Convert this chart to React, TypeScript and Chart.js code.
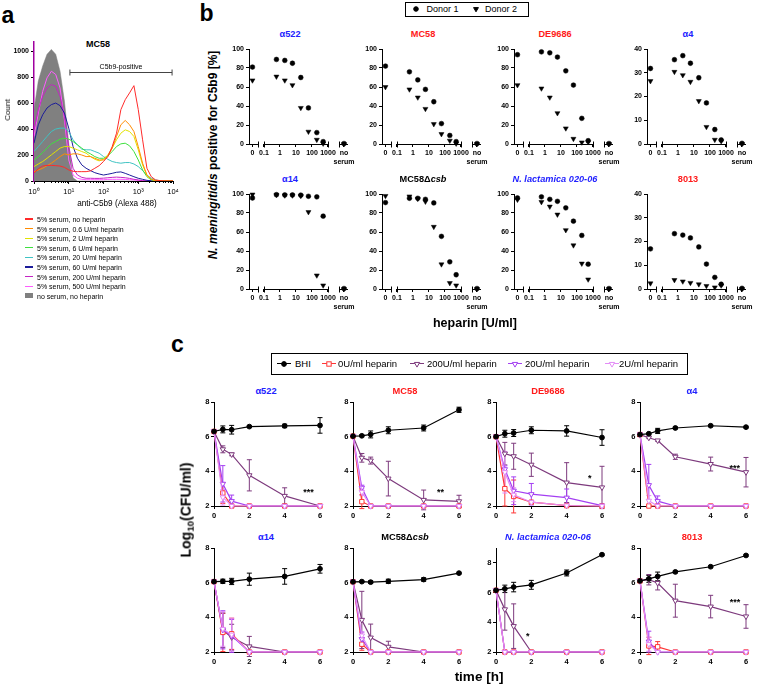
import React, { useEffect, useRef } from 'react';
import { Chart, registerables } from 'chart.js';

Chart.register(...registerables);

const FONT = "'Liberation Sans', Arial, Helvetica, sans-serif";
const PAD = 8;

// ================= Panel a : flow cytometry histogram (MC58) =================
const HIST_X = [1, 1.33, 1.78, 2.37, 3.16, 4.22, 5.62, 7.5, 10, 13.3, 17.8, 23.7, 31.6, 42.2, 56.2, 75, 100, 133, 178, 237, 316, 422, 562, 750, 1000, 1334, 1778, 2371, 3162, 4217, 5623, 7499, 10000];
const HIST_NO_HEPARIN = [60, 95, 115, 120, 120, 118, 115, 105, 85, 75, 72, 72, 72, 78, 98, 118, 150, 188, 265, 368, 549, 626, 678, 734, 550, 317, 98, 33, 8, 3, 0, 0, 0];
const HIST_HEP_0_6 = [72, 85, 98, 118, 137, 162, 188, 209, 201, 209, 209, 200, 188, 188, 175, 162, 162, 188, 253, 343, 433, 466, 433, 381, 265, 137, 46, 13, 3, 0, 0, 0, 0];
const HIST_HEP_2 = [111, 131, 150, 175, 201, 227, 253, 265, 265, 253, 240, 227, 214, 188, 167, 155, 167, 201, 253, 317, 368, 394, 381, 343, 240, 124, 41, 13, 3, 0, 0, 0, 0];
const HIST_HEP_6 = [162, 188, 219, 253, 286, 304, 322, 330, 322, 304, 278, 253, 227, 209, 188, 175, 175, 193, 227, 265, 286, 291, 271, 227, 162, 85, 33, 8, 2, 0, 0, 0, 0];
const HIST_HEP_20 = [227, 265, 304, 343, 381, 400, 407, 407, 381, 317, 278, 245, 240, 240, 227, 214, 188, 167, 150, 142, 137, 142, 142, 131, 111, 80, 46, 21, 8, 2, 0, 0, 0];
const HIST_HEP_60 = [291, 433, 510, 562, 588, 600, 580, 523, 407, 265, 175, 124, 98, 80, 64, 54, 46, 52, 59, 67, 70, 59, 46, 33, 21, 13, 5, 2, 0, 0, 0, 0, 0];
const HIST_HEP_200 = [394, 549, 652, 716, 742, 729, 652, 497, 265, 98, 46, 28, 21, 21, 20, 20, 22, 25, 28, 30, 28, 25, 20, 13, 8, 3, 0, 0, 0, 0, 0, 0, 0];
const HIST_HEP_500 = [343, 523, 690, 794, 845, 820, 716, 472, 162, 46, 21, 13, 10, 10, 10, 10, 10, 12, 13, 13, 13, 12, 10, 8, 5, 2, 0, 0, 0, 0, 0, 0, 0];
const HIST_NO_SERUM = [550, 770, 885, 975, 1013, 975, 845, 615, 290, 25, 0, 0, 0, 0, 0, 0, 0, 0, 0, 0, 0, 0, 0, 0, 0, 0, 0, 0, 0, 0, 0, 0, 0];
const HIST_LABELS = [
  '5% serum, no heparin',
  '5% serum, 0.6 U/ml heparin',
  '5% serum, 2 U/ml heparin',
  '5% serum, 6 U/ml heparin',
  '5% serum, 20 U/ml heparin',
  '5% serum, 60 U/ml heparin',
  '5% serum, 200 U/ml heparin',
  '5% serum, 500 U/ml heparin',
  'no serum, no heparin',
];
const HIST_COLORS = ['#ff2a2a', '#ff8c00', '#e2e200', '#3ee03e', '#3fc3c3', '#1c1c9a', '#c424c4', '#ff5cff', '#808080'];
const HIST_X_MAJOR = [1, 10, 100, 1000, 10000];
const HIST_Y_TICKS = [0, 200, 400, 600, 800, 1000];
const SUP = ['\u2070', '\u00b9', '\u00b2', '\u00b3', '\u2074'];

// ================= Panel b : % C5b9 positive =================
const HEPARIN_CONC: any[] = [0, 0.6, 2, 6, 20, 60, 200, 500, 'no serum'];
const B_A522_D1 = [81, 89, 88, 85, 70, 38, 12, 2.5, 0.5];
const B_A522_D2 = [67, 71, 67, 62, 38, 13, 4.5, 0.5, 0];
const B_MC58_D1 = [82, 76, 67.5, 57.5, 44.5, 21.5, 9, 2.5, 0.5];
const B_MC58_D2 = [60, 57.5, 49, 37, 21, 10.5, 3.5, 0.5, 0];
const B_DE9686_D1 = [94, 97, 96, 91.5, 77, 62, 27, 3.5, 0.5];
const B_DE9686_D2 = [62, 58.5, 49, 32.5, 16.5, 5.5, 1.7, 2, 0];
const B_A4_D1 = [31.8, 35.5, 37.2, 34, 27.9, 17.3, 6.1, 1.7, 0.3];
const B_A4_D2 = [26.5, 30.4, 29, 26.2, 18.1, 7.2, 1.8, 1.2, 0];
const B_A14_D1 = [95.8, 99.3, 99, 99, 98.8, 97.6, 97, 76.7, 0.5];
const B_A14_D2 = [99.5, 99, 98.5, 98.5, 98, 81, 14.3, 3.8, 0];
const B_CSB_D1 = [91, 95.5, 95.5, 94.4, 90.6, 55.4, 28.6, 15, 0.5];
const B_CSB_D2 = [98, 97.5, 95, 92, 65.5, 26, 6.3, 3.8, 0];
const B_NLAC_D1 = [95.8, 97, 94.4, 92.3, 85.4, 71.4, 56.4, 26.1, 0.5];
const B_NLAC_D2 = [94, 91.6, 86.8, 78.4, 62, 46, 26.8, 10.1, 0];
const B_8013_D1 = [16.9, 23.3, 22.7, 21.5, 17.7, 10.5, 4.9, 2, 0.3];
const B_8013_D2 = [2.4, 3.8, 3.2, 2.6, 2, 1.3, 0.7, 1.5, 0];

// broken axis placement on a log scale (axis geometry, not data)
const B_X_MIN = 0.0116;
const B_X_MAX = 17800;
const B_ZERO_POS = 0.0191;
const B_NOSERUM_POS = 10000;
const B_X_TICKS = [B_ZERO_POS, 0.1, 1, 10, 100, 1000, B_NOSERUM_POS];
const posB = (c: any) => (c === 0 ? B_ZERO_POS : c === 'no serum' ? B_NOSERUM_POS : c);

// ================= Panel c : killing kinetics =================
const TIME_H = [0, 0.5, 1, 2, 4, 6];
const C_X_TICKS = [0, 2, 4, 6];
const C_Y_TICKS = [2, 4, 6, 8];

const C_A522_MEAN = { bhi: [6.3, 6.42, 6.4, 6.58, 6.62, 6.65], u0: [6.3, 2.75, 2, 2, 2, 2], u200: [6.3, 5.27, 4.98, 3.77, 2.58, 2], u20: [6.3, 3.28, 2.28, 2, 2, 2], u2: [6.3, 2.5, 2, 2, 2, 2] };
const C_A522_ERR = { bhi: [0, 0.2, 0.25, 0.05, 0.1, 0.45], u0: [0, 0.6, 0, 0, 0, 0], u200: [0, 0.2, 0.08, 0.9, 0.47, 0], u20: [0, 1.05, 0.35, 0, 0, 0], u2: [0, 0.45, 0, 0, 0, 0] };
const C_MC58_MEAN = { bhi: [6.03, 6.05, 6.13, 6.37, 6.5, 7.55], u0: [6.03, 2.25, 2, 2, 2, 2], u200: [6.03, 4.78, 4.62, 3.58, 2.35, 2.27], u20: [6.03, 3.05, 2, 2, 2, 2], u2: [6.03, 2.8, 2, 2, 2, 2] };
const C_MC58_ERR = { bhi: [0, 0.05, 0.2, 0.2, 0.17, 0.15], u0: [0, 0.4, 0, 0, 0, 0], u200: [0, 0.25, 0.2, 1.0, 0.57, 0.35], u20: [0, 0.15, 0, 0, 0, 0], u2: [0, 0.2, 0, 0, 0, 0] };
const C_DE9686_MEAN = { bhi: [6.0, 6.17, 6.21, 6.37, 6.33, 5.95], u0: [6.0, 3.0, 2.55, 2.22, 2.02, 2], u200: [6.0, 5.02, 4.87, 4.38, 3.35, 3.07], u20: [6.0, 4.12, 2.88, 2.68, 2.48, 2.02], u2: [6.0, 3.95, 2.65, 2.22, 2.03, 2] };
const C_DE9686_ERR = { bhi: [0, 0.2, 0.2, 0.2, 0.3, 0.45], u0: [0, 1.0, 0.95, 0, 0, 0], u200: [0, 0.65, 0.75, 0.67, 1.15, 1.22], u20: [0, 0.2, 0.8, 0.62, 0.5, 0], u2: [0, 1.2, 0.4, 0, 0, 0] };
const C_A4_MEAN = { bhi: [6.12, 6.17, 6.33, 6.5, 6.63, 6.55], u0: [6.12, 2, 2, 2, 2, 2], u200: [6.12, 5.94, 5.78, 4.84, 4.42, 3.95], u20: [6.12, 3.2, 2.28, 2, 2, 2], u2: [6.12, 2.3, 2, 2, 2, 2] };
const C_A4_ERR = { bhi: [0, 0.05, 0.15, 0.05, 0.05, 0.05], u0: [0, 0, 0, 0, 0, 0], u200: [0, 0.05, 0.05, 0.15, 0.4, 0.85], u20: [0, 1.2, 0.3, 0, 0, 0], u2: [0, 0.3, 0, 0, 0, 0] };
const C_A14_MEAN = { bhi: [6.06, 6.08, 6.07, 6.2, 6.36, 6.8], u0: [6.06, 3.13, 3.05, 2, 2, 2], u200: [6.06, 3.25, 2.85, 2.32, 2, 2], u20: [6.06, 3.28, 2.93, 2, 2, 2], u2: [6.06, 3.33, 3.0, 2, 2, 2] };
const C_A14_ERR = { bhi: [0, 0.12, 0.18, 0.35, 0.45, 0.25], u0: [0, 1.1, 0.9, 0, 0, 0], u200: [0, 1.0, 0.75, 0.58, 0, 0], u20: [0, 1.1, 0.95, 0, 0, 0], u2: [0, 1.0, 0.95, 0, 0, 0] };
const C_CSB_MEAN = { bhi: [6.05, 6.06, 6.03, 6.08, 6.18, 6.55], u0: [6.05, 2.45, 2, 2, 2, 2], u200: [6.05, 3.85, 2.83, 2.3, 2, 2], u20: [6.05, 2.75, 2, 2, 2, 2], u2: [6.05, 2.95, 2, 2, 2, 2] };
const C_CSB_ERR = { bhi: [0, 0.05, 0.08, 0.12, 0.1, 0.05], u0: [0, 0.35, 0, 0, 0, 0], u200: [0, 1.65, 0.78, 0.32, 0, 0], u20: [0, 0.4, 0, 0, 0, 0], u2: [0, 0.2, 0, 0, 0, 0] };
const C_NLAC_MEAN = { bhi: [6.15, 6.25, 6.37, 6.52, 7.32, 8.55], u0: [6.15, 2, 2, 2, 2, 2], u200: [6.15, 4.87, 3.74, 2, 2, 2], u20: [6.15, 2, 2, 2, 2, 2], u2: [6.15, 2, 2, 2, 2, 2] };
const C_NLAC_ERR = { bhi: [0, 0.25, 0.32, 0.3, 0.2, 0.05], u0: [0, 0, 0, 0, 0, 0], u200: [0, 1.4, 1.5, 0, 0, 0], u20: [0, 0, 0, 0, 0, 0], u2: [0, 0, 0, 0, 0, 0] };
const C_8013_MEAN = { bhi: [6.1, 6.22, 6.36, 6.62, 6.92, 7.57], u0: [6.1, 2.35, 2.3, 2, 2, 2], u200: [6.1, 6.17, 5.98, 4.96, 4.62, 4.05], u20: [6.1, 2.6, 2, 2, 2, 2], u2: [6.1, 2.45, 2, 2, 2, 2] };
const C_8013_ERR = { bhi: [0, 0.2, 0.25, 0.05, 0.05, 0.05], u0: [0, 0.5, 0.3, 0, 0, 0], u200: [0, 0.3, 0.4, 0.95, 0.65, 0.68], u20: [0, 0.6, 0, 0, 0, 0], u2: [0, 0.4, 0, 0, 0, 0] };

const C_SERIES = [
  { key: 'bhi', label: 'BHI', color: '#000000', style: 'circle', fill: '#000000', radius: 2.4, order: 0 },
  { key: 'u0', label: '0U/ml heparin', color: '#ff3636', style: 'rect', fill: '#ffffff', radius: 3.1, order: 3 },
  { key: 'u200', label: '200U/ml heparin', color: '#7d3a7d', style: 'triangle', fill: '#ffffff', radius: 3.1, order: 4 },
  { key: 'u20', label: '20U/ml heparin', color: '#a43ff2', style: 'triangle', fill: '#ffffff', radius: 3.1, order: 2 },
  { key: 'u2', label: '2U/ml heparin', color: '#e38cf6', style: 'triangle', fill: '#ffffff', radius: 3.1, order: 1 },
];

// ================= plugins =================
const bracketPlugin = {
  id: 'bracket',
  afterDatasetsDraw(chart: any, _a: any, opts: any) {
    if (!opts || !opts.text) return;
    const { ctx } = chart;
    const xs = chart.scales.x;
    const ys = chart.scales.y;
    const x1 = xs.getPixelForValue(opts.from);
    const x2 = xs.getPixelForValue(opts.to);
    const py = Math.round(ys.getPixelForValue(opts.y)) + 0.5;
    ctx.save();
    ctx.strokeStyle = '#444';
    ctx.lineWidth = 1;
    ctx.beginPath();
    ctx.moveTo(x1, py); ctx.lineTo(x2, py);
    ctx.moveTo(x1, py - 3); ctx.lineTo(x1, py + 3);
    ctx.moveTo(x2, py - 3); ctx.lineTo(x2, py + 3);
    ctx.stroke();
    ctx.fillStyle = '#000';
    ctx.font = `7px ${FONT}`;
    ctx.textAlign = 'center';
    ctx.textBaseline = 'bottom';
    ctx.fillText(opts.text, (x1 + x2) / 2, py - 2);
    ctx.restore();
  },
};

// short minor tick marks between the decades of a log axis
const minorTickPlugin = {
  id: 'minorTicks',
  afterDraw(chart: any, _a: any, opts: any) {
    if (!opts || !opts.decades) return;
    const { ctx, chartArea } = chart;
    const xs = chart.scales.x;
    const y = Math.round(chartArea.bottom);
    ctx.save();
    ctx.strokeStyle = '#000';
    ctx.lineWidth = 1;
    ctx.beginPath();
    for (let d = 0; d < opts.decades; d++) {
      for (let m = 2; m < 10; m++) {
        const px = Math.round(xs.getPixelForValue(m * Math.pow(10, d))) + 0.5;
        ctx.moveTo(px, y); ctx.lineTo(px, y + 2);
      }
    }
    ctx.stroke();
    ctx.restore();
  },
};

const brokenAxisPlugin = {
  id: 'brokenAxis',
  afterDraw(chart: any) {
    const { ctx, chartArea } = chart;
    const xs = chart.scales.x;
    const y = Math.round(chartArea.bottom) + 0.5;
    const segs = [
      { a: chartArea.left, b: xs.getPixelForValue(0.0422), capA: false, capB: true },
      { a: xs.getPixelForValue(0.1), b: xs.getPixelForValue(1000), capA: true, capB: true },
      { a: xs.getPixelForValue(5000), b: chartArea.right, capA: true, capB: false },
    ];
    ctx.save();
    ctx.strokeStyle = '#000';
    ctx.lineWidth = 1;
    ctx.beginPath();
    segs.forEach((s) => {
      ctx.moveTo(s.a, y); ctx.lineTo(s.b, y);
      if (s.capA) { ctx.moveTo(Math.round(s.a) + 0.5, y - 3); ctx.lineTo(Math.round(s.a) + 0.5, y + 3); }
      if (s.capB) { ctx.moveTo(Math.round(s.b) + 0.5, y - 3); ctx.lineTo(Math.round(s.b) + 0.5, y + 3); }
    });
    ctx.stroke();
    ctx.restore();
  },
};

const errorBarPlugin = {
  id: 'errorBars',
  beforeDatasetsDraw(chart: any) {
    const { ctx } = chart;
    const ys = chart.scales.y;
    chart.data.datasets.forEach((ds: any, di: number) => {
      if (!ds.errors) return;
      const meta = chart.getDatasetMeta(di);
      ctx.save();
      ctx.strokeStyle = ds.borderColor;
      ctx.lineWidth = 1;
      ctx.beginPath();
      meta.data.forEach((pt: any, i: number) => {
        const e = ds.errors[i];
        if (!e) return;
        const v = ds.data[i].y;
        const yt = ys.getPixelForValue(v + e);
        const yb = ys.getPixelForValue(v - e);
        ctx.moveTo(pt.x, yt); ctx.lineTo(pt.x, yb);
        ctx.moveTo(pt.x - 2.5, yt); ctx.lineTo(pt.x + 2.5, yt);
        ctx.moveTo(pt.x - 2.5, yb); ctx.lineTo(pt.x + 2.5, yb);
      });
      ctx.stroke();
      ctx.restore();
    });
  },
};

const starPlugin = {
  id: 'stars',
  afterDatasetsDraw(chart: any, _a: any, opts: any) {
    if (!opts || !opts.text) return;
    const { ctx } = chart;
    ctx.save();
    ctx.fillStyle = '#000';
    ctx.font = `bold 9px ${FONT}`;
    ctx.textAlign = 'center';
    ctx.textBaseline = 'middle';
    ctx.fillText(opts.text, chart.scales.x.getPixelForValue(opts.x), chart.scales.y.getPixelForValue(opts.y));
    ctx.restore();
  },
};

// ================= chart canvas with fixed plot rectangle =================
function PlotCanvas({ left, top, width, height, yW, xH, make }: any) {
  const ref = useRef<HTMLCanvasElement | null>(null);
  const cw = PAD + yW + width + PAD;
  const ch = PAD + height + xH + PAD;
  useEffect(() => {
    if (!ref.current) return;
    const cfg = make();
    const o = cfg.options;
    o.responsive = false;
    o.maintainAspectRatio = false;
    o.animation = false;
    o.devicePixelRatio = 1;
    o.events = [];
    o.layout = { padding: PAD };
    o.scales.x.afterFit = (s: any) => { s.height = xH; s.paddingLeft = 0; s.paddingRight = 0; };
    o.scales.y.afterFit = (s: any) => { s.width = yW; s.paddingTop = 0; s.paddingBottom = 0; };
    o.plugins = { ...(o.plugins || {}), legend: { display: false }, title: { display: false }, tooltip: { enabled: false } };
    const chart = new Chart(ref.current, cfg);
    return () => chart.destroy();
  }, []);
  return (
    <canvas
      ref={ref}
      width={cw}
      height={ch}
      style={{ position: 'absolute', left: left - yW - PAD, top: top - PAD, width: cw, height: ch }}
    />
  );
}

const tickFont = (size: number, bold = true) => ({ family: FONT, size, weight: (bold ? 'bold' : 'normal') as any });
const axisGrid = { display: true, drawOnChartArea: false, drawTicks: true, tickLength: 3, color: '#000', lineWidth: 1 };

function histConfig() {
  const series = [HIST_NO_HEPARIN, HIST_HEP_0_6, HIST_HEP_2, HIST_HEP_6, HIST_HEP_20, HIST_HEP_60, HIST_HEP_200, HIST_HEP_500, HIST_NO_SERUM];
  return {
    type: 'line',
    data: {
      datasets: series.map((arr, k) => ({
        label: HIST_LABELS[k],
        data: HIST_X.map((x, i) => ({ x, y: arr[i] })),
        borderColor: HIST_COLORS[k],
        backgroundColor: k === 8 ? HIST_COLORS[k] : 'transparent',
        fill: k === 8 ? 'origin' : false,
        borderWidth: k === 8 ? 0.5 : 1,
        pointRadius: 0,
        tension: 0,
        order: k === 8 ? 20 : k,
      })),
    },
    options: {
      scales: {
        x: {
          type: 'logarithmic', min: 1, max: 10000,
          afterBuildTicks: (s: any) => { s.ticks = HIST_X_MAJOR.map((v) => ({ value: v })); },
          ticks: {
            autoSkip: false, maxRotation: 0, minRotation: 0, padding: 3, color: '#000', font: tickFont(7.5, false),
            callback: (v: any) => { const i = HIST_X_MAJOR.indexOf(v); return i >= 0 ? '10' + SUP[i] : ''; },
          },
          grid: axisGrid,
          border: { display: true, color: '#000', width: 1 },
        },
        y: {
          type: 'linear', min: 0, max: 1070,
          afterBuildTicks: (s: any) => { s.ticks = HIST_Y_TICKS.map((v) => ({ value: v })); },
          ticks: { autoSkip: false, padding: 2, color: '#000', font: tickFont(7), callback: (v: any) => String(v) },
          grid: axisGrid,
          border: { display: true, color: '#a000a0', width: 1.5 },
        },
      },
      plugins: {
        bracket: { text: 'C5b9-positive', from: 10.8, to: 9400, y: 840 },
        minorTicks: { decades: 4 },
      },
    },
    plugins: [bracketPlugin, minorTickPlugin],
  };
}

function makeB(spec: any) {
  return () => ({
    type: 'scatter',
    data: {
      datasets: [
        { label: 'Donor 1', data: HEPARIN_CONC.map((c, i) => ({ x: posB(c), y: spec.d1[i] })), pointStyle: 'circle', pointRadius: 2.4, pointBackgroundColor: '#000', pointBorderColor: '#000', pointBorderWidth: 0.5, clip: false, order: 0 },
        { label: 'Donor 2', data: HEPARIN_CONC.map((c, i) => ({ x: posB(c), y: spec.d2[i] })), pointStyle: 'triangle', pointRotation: 180, pointRadius: 2.9, pointBackgroundColor: '#000', pointBorderColor: '#000', pointBorderWidth: 0.5, clip: false, order: 1 },
      ],
    },
    options: {
      scales: {
        x: {
          type: 'logarithmic', min: B_X_MIN, max: B_X_MAX,
          afterBuildTicks: (s: any) => { s.ticks = B_X_TICKS.map((v) => ({ value: v })); },
          ticks: {
            autoSkip: false, maxRotation: 0, minRotation: 0, padding: 2, color: '#000', font: tickFont(7),
            callback: (v: any) => (v === B_ZERO_POS ? '0' : v === B_NOSERUM_POS ? ['no', 'serum'] : String(v)),
          },
          grid: axisGrid,
          border: { display: false },
        },
        y: {
          type: 'linear', min: 0, max: spec.ymax,
          afterBuildTicks: (s: any) => { s.ticks = spec.yticks.map((v: number) => ({ value: v })); },
          ticks: { autoSkip: false, padding: 2, color: '#000', font: tickFont(7), callback: (v: any) => String(v) },
          grid: axisGrid,
          border: { display: true, color: '#000', width: 1 },
        },
      },
    },
    plugins: [brokenAxisPlugin],
  });
}

function makeC(spec: any) {
  return () => ({
    type: 'line',
    data: {
      datasets: C_SERIES.map((s) => ({
        label: s.label,
        data: TIME_H.map((t, i) => ({ x: t, y: spec.mean[s.key][i] })),
        errors: spec.err[s.key],
        borderColor: s.color,
        backgroundColor: s.fill,
        pointBackgroundColor: s.fill,
        pointBorderColor: s.color,
        pointStyle: s.style,
        pointRotation: s.style === 'triangle' ? 180 : 0,
        pointRadius: s.radius,
        pointBorderWidth: 1,
        borderWidth: 1.2,
        tension: 0,
        clip: false,
        order: s.order,
      })),
    },
    options: {
      scales: {
        x: {
          type: 'linear', min: 0, max: 6,
          afterBuildTicks: (s: any) => { s.ticks = C_X_TICKS.map((v) => ({ value: v })); },
          ticks: { autoSkip: false, maxRotation: 0, padding: 2, color: '#000', font: tickFont(7.5) },
          grid: axisGrid,
          border: { display: true, color: '#000', width: 1 },
        },
        y: {
          type: 'linear', min: 2, max: spec.ymax,
          afterBuildTicks: (s: any) => { s.ticks = C_Y_TICKS.map((v) => ({ value: v })); },
          ticks: { autoSkip: false, padding: 1.5, color: '#000', font: tickFont(7.5) },
          grid: axisGrid,
          border: { display: true, color: '#000', width: 1 },
        },
      },
      plugins: { stars: spec.star || { text: '' } },
    },
    plugins: [errorBarPlugin, starPlugin],
  });
}

// ================= text helpers =================
function Txt({ x, y, size, bold, italic, color, rotate, children, left }: any) {
  const tx = left ? '0' : '-50%';
  return (
    <div
      style={{
        position: 'absolute', left: x, top: y,
        transform: `translate(${tx}, -50%)${rotate ? ` rotate(${rotate}deg)` : ''}`,
        fontFamily: FONT, fontSize: size, fontWeight: bold ? 700 : 400,
        fontStyle: italic ? 'italic' : 'normal', color: color || '#000',
        whiteSpace: 'nowrap', lineHeight: 1,
      }}
    >
      {children}
    </div>
  );
}

function Marker({ x, y, kind, color, fill, r }: any) {
  let shape: any = null;
  if (kind === 'circle') shape = <circle cx={6} cy={6} r={r} fill={fill} stroke={color} strokeWidth={1} />;
  else if (kind === 'rect') { const h = r * 0.707; shape = <rect x={6 - h} y={6 - h} width={2 * h} height={2 * h} fill={fill} stroke={color} strokeWidth={1} />; }
  else {
    const pts = `${6},${6 + r} ${6 - r * 0.866},${6 - r * 0.5} ${6 + r * 0.866},${6 - r * 0.5}`;
    shape = <polygon points={pts} fill={fill} stroke={color} strokeWidth={1} />;
  }
  return <svg width={12} height={12} style={{ position: 'absolute', left: x - 6, top: y - 6, overflow: 'visible' }}>{shape}</svg>;
}

const BLUE = '#2222ff';
const RED = '#ff1a1a';

const B_CHARTS = [
  { key: 'a522', title: <span>α522</span>, color: BLUE, left: 249, top: 49, d1: B_A522_D1, d2: B_A522_D2, ymax: 100, yticks: [0, 20, 40, 60, 80, 100] },
  { key: 'mc58', title: <span>MC58</span>, color: RED, left: 382, top: 49, d1: B_MC58_D1, d2: B_MC58_D2, ymax: 100, yticks: [0, 20, 40, 60, 80, 100] },
  { key: 'de', title: <span>DE9686</span>, color: RED, left: 514, top: 49, d1: B_DE9686_D1, d2: B_DE9686_D2, ymax: 100, yticks: [0, 20, 40, 60, 80, 100] },
  { key: 'a4', title: <span>α4</span>, color: BLUE, left: 647, top: 49, d1: B_A4_D1, d2: B_A4_D2, ymax: 40, yticks: [0, 10, 20, 30, 40] },
  { key: 'a14', title: <span>α14</span>, color: BLUE, left: 249, top: 194, d1: B_A14_D1, d2: B_A14_D2, ymax: 100, yticks: [0, 20, 40, 60, 80, 100] },
  { key: 'csb', title: <span>MC58Δ<i>csb</i></span>, color: '#000', left: 382, top: 194, d1: B_CSB_D1, d2: B_CSB_D2, ymax: 100, yticks: [0, 20, 40, 60, 80, 100] },
  { key: 'nlac', title: <i>N. lactamica 020-06</i>, color: BLUE, left: 514, top: 194, d1: B_NLAC_D1, d2: B_NLAC_D2, ymax: 100, yticks: [0, 20, 40, 60, 80, 100] },
  { key: '8013', title: <span>8013</span>, color: RED, left: 647, top: 194, d1: B_8013_D1, d2: B_8013_D2, ymax: 40, yticks: [0, 10, 20, 30, 40] },
];

const C_CHARTS = [
  { key: 'a522', title: <span>α522</span>, color: BLUE, left: 214, top: 402, mean: C_A522_MEAN, err: C_A522_ERR, ymax: 8, star: { text: '***', x: 5.35, y: 2.75 } },
  { key: 'mc58', title: <span>MC58</span>, color: RED, left: 353, top: 402, mean: C_MC58_MEAN, err: C_MC58_ERR, ymax: 8, star: { text: '**', x: 4.95, y: 2.75 } },
  { key: 'de', title: <span>DE9686</span>, color: RED, left: 496, top: 402, mean: C_DE9686_MEAN, err: C_DE9686_ERR, ymax: 8, star: { text: '*', x: 5.3, y: 3.6 } },
  { key: 'a4', title: <span>α4</span>, color: BLUE, left: 640, top: 402, mean: C_A4_MEAN, err: C_A4_ERR, ymax: 8, star: { text: '***', x: 5.37, y: 4.15 } },
  { key: 'a14', title: <span>α14</span>, color: BLUE, left: 214, top: 548, mean: C_A14_MEAN, err: C_A14_ERR, ymax: 8, star: null },
  { key: 'csb', title: <span>MC58Δ<i>csb</i></span>, color: '#000', left: 353, top: 548, mean: C_CSB_MEAN, err: C_CSB_ERR, ymax: 8, star: null },
  { key: 'nlac', title: <i>N. lactamica 020-06</i>, color: BLUE, left: 496, top: 548, mean: C_NLAC_MEAN, err: C_NLAC_ERR, ymax: 9, star: { text: '*', x: 1.8, y: 3.05 } },
  { key: '8013', title: <span>8013</span>, color: RED, left: 640, top: 548, mean: C_8013_MEAN, err: C_8013_ERR, ymax: 8, star: { text: '***', x: 5.38, y: 4.85 } },
];

const C_LEGEND_X = [
  { m: 284, t: 295 },
  { m: 328.5, t: 338 },
  { m: 416.5, t: 427 },
  { m: 515, t: 525 },
  { m: 611.5, t: 619 },
];

export default function App() {
  return (
    <div style={{ position: 'absolute', left: 0, top: 0, width: 760, height: 686, background: '#fff', overflow: 'hidden', fontFamily: FONT }}>
      {/* ---------- panel a ---------- */}
      <Txt x={8} y={14.5} size={23} bold>a</Txt>
      <Txt x={98} y={44} size={9} bold>MC58</Txt>
      <PlotCanvas left={34} top={42} width={139} height={139} yW={22} xH={18} make={histConfig} />
      <Txt x={8} y={110} size={8} rotate={-90}>Count</Txt>
      <Txt x={117} y={204} size={8.2}>anti-C5b9 (Alexa 488)</Txt>
      {HIST_LABELS.map((lab, k) => (
        <React.Fragment key={lab}>
          {k === 8 ? (
            <div style={{ position: 'absolute', left: 25, top: 219 + k * 9.6 - 2.5, width: 8, height: 5, background: HIST_COLORS[k] }} />
          ) : (
            <div style={{ position: 'absolute', left: 25, top: 219 + k * 9.6 - 0.6, width: 8, height: 1.2, background: HIST_COLORS[k] }} />
          )}
          <Txt x={37} y={219 + k * 9.6} size={7} left>{lab}</Txt>
        </React.Fragment>
      ))}

      {/* ---------- panel b ---------- */}
      <Txt x={206.5} y={12.5} size={23} bold>b</Txt>
      <div style={{ position: 'absolute', left: 405, top: 2, width: 122, height: 13, border: '1px solid #000' }} />
      <Marker x={416} y={9} kind="circle" color="#000" fill="#000" r={2.3} />
      <Txt x={426.5} y={9} size={9} left>Donor 1</Txt>
      <Marker x={476} y={9} kind="tri" color="#000" fill="#000" r={2.8} />
      <Txt x={485} y={9} size={9} left>Donor 2</Txt>
      {B_CHARTS.map((c) => (
        <React.Fragment key={'b' + c.key}>
          <Txt x={c.left + 41} y={c.top - 14.5} size={9.2} bold color={c.color}>{c.title}</Txt>
          <PlotCanvas left={c.left} top={c.top} width={99} height={95} yW={20} xH={22} make={makeB(c)} />
        </React.Fragment>
      ))}
      <Txt x={213} y={155} size={12} bold rotate={-90}><i>N. meningitidis</i> positive for C5b9 [%]</Txt>
      <Txt x={475} y={323} size={12.5} bold>heparin [U/ml]</Txt>

      {/* ---------- panel c ---------- */}
      <Txt x={177.5} y={344} size={23} bold>c</Txt>
      <div style={{ position: 'absolute', left: 271, top: 353, width: 415, height: 20, border: '1px solid #000' }} />
      {C_SERIES.map((s, k) => (
        <React.Fragment key={'leg' + s.key}>
          <div style={{ position: 'absolute', left: C_LEGEND_X[k].m - 7, top: 363.4 - 0.6, width: 14, height: 1.2, background: s.color }} />
          <Marker x={C_LEGEND_X[k].m} y={363.5} kind={s.style === 'triangle' ? 'tri' : s.style} color={s.color} fill={s.fill} r={s.radius} />
          <Txt x={C_LEGEND_X[k].t} y={363.5} size={9.5} left>{s.label}</Txt>
        </React.Fragment>
      ))}
      {C_CHARTS.map((c) => (
        <React.Fragment key={'c' + c.key}>
          <Txt x={c.left + 52} y={c.top - 10.5} size={9.3} bold color={c.color}>{c.title}</Txt>
          <PlotCanvas left={c.left} top={c.top} width={106} height={104} yW={18} xH={16} make={makeC(c)} />
        </React.Fragment>
      ))}
      <Txt x={187} y={510} size={14} bold rotate={-90}>Log<sub style={{ fontSize: '0.7em', verticalAlign: '-0.3em' }}>10</sub>(CFU/ml)</Txt>
      <Txt x={479} y={677} size={13.5} bold>time [h]</Txt>
    </div>
  );
}
